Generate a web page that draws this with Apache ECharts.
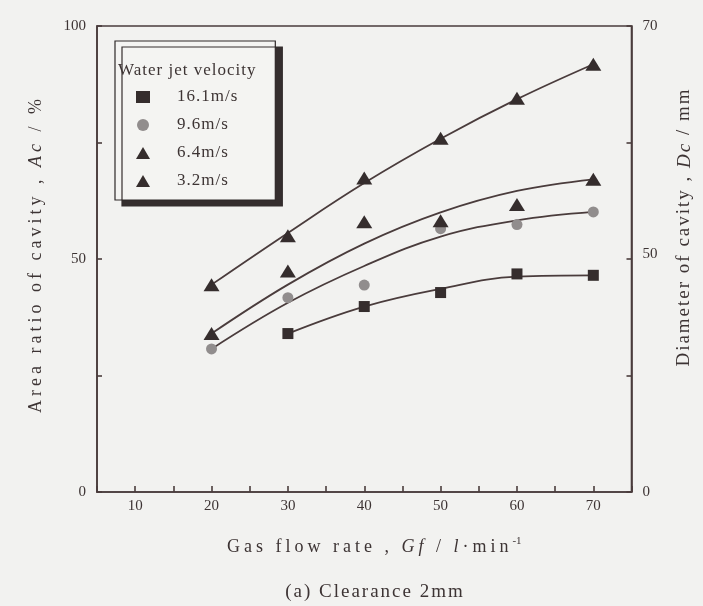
<!DOCTYPE html>
<html>
<head>
<meta charset="utf-8">
<title>Cavity area ratio vs gas flow rate</title>
<script src="https://cdn.jsdelivr.net/npm/echarts@6/dist/echarts.min.js"></script>
<style>
  html, body { margin: 0; padding: 0; background: #f2f2f0; }
  #chart { width: 703px; height: 606px; }
</style>
</head>
<body>
<div id="chart"></div>
<script>
// Gas flow rate Gf (l/min) at which the cavity was measured
const gasFlow = [20, 30, 40, 50, 60, 70];

// Water jet velocities (legend entries)
const velocities = ['16.1m/s', '9.6m/s', '6.4m/s', '3.2m/s'];

// Measured area ratio of cavity Ac (%) per velocity
const ac161 = [null, 34.0, 39.8, 42.8, 46.8, 46.5];
const ac96  = [30.7, 41.7, 44.4, 56.5, 57.4, 60.1];
const ac64  = [34.0, 47.4, 58.0, 58.2, 61.7, 67.1];
const ac32  = [44.5, 55.0, 67.4, 75.9, 84.5, 91.8];

// Smoothed trend curves drawn through each data set
const fit161 = [null, 34.0, 39.8, 43.6, 46.2, 46.5];
const fit96  = [30.7, 40.6, 48.5, 54.8, 58.3, 60.1];
const fit64  = [34.0, 44.5, 53.3, 60.0, 64.6, 67.1];
const fit32  = [44.5, 55.6, 66.3, 75.8, 84.3, 91.8];

// Axis ticks
const xTickLabels = [10, 20, 30, 40, 50, 60, 70];
const acTickLabels = [0, 50, 100];
const dcTickLabels = [0, 50, 70];     // diameter Dc (mm), Ac = (Dc / 70)^2 * 100
const dcFull = 70;

// Condensed typeset look: extra tracking keyed on font size
const TRACKING = { 18: '4px', 19: '2px', 17: '1px' };
(function () {
  const proto = CanvasRenderingContext2D.prototype;
  ['fillText', 'strokeText', 'measureText'].forEach(function (fn) {
    const orig = proto[fn];
    proto[fn] = function () {
      const m = /(\d+(?:\.\d+)?)px/.exec(this.font || '');
      const sp = m ? TRACKING[Math.round(parseFloat(m[1]))] : null;
      if ('letterSpacing' in this) this.letterSpacing = sp || '0px';
      return orig.apply(this, arguments);
    };
  });
})();

const INK = '#3d3434';
const LINE = '#4a3c3c';
const FONT = '"Liberation Serif", "DejaVu Serif", serif';

function pairs(ys) {
  const out = [];
  gasFlow.forEach(function (g, i) { if (ys[i] != null) out.push([g, ys[i]]); });
  return out;
}

const pointSets = [ac161, ac96, ac64, ac32];
const fitSets = [fit161, fit96, fit64, fit32];
const symbols = ['rect', 'circle', 'triangle', 'triangle'];
const symbolSizes = [11, 11, [16, 13], [16, 13]];
const colors = ['#352d2d', '#918d8d', '#352d2d', '#352d2d'];

const series = [];
fitSets.forEach(function (ys, k) {
  series.push({
    name: velocities[k] + ' trend',
    type: 'line',
    data: pairs(ys),
    smooth: 0.4,
    showSymbol: false,
    symbol: 'none',
    silent: true,
    z: 2,
    lineStyle: { color: LINE, width: 1.8 }
  });
});
pointSets.forEach(function (ys, k) {
  series.push({
    name: velocities[k],
    type: 'scatter',
    data: pairs(ys),
    symbol: symbols[k],
    symbolSize: symbolSizes[k],
    z: 3,
    itemStyle: { color: colors[k], opacity: 1 }
  });
});

const axisLineStyle = { color: LINE, width: 1.6 };
const textBase = { fontFamily: FONT, color: INK };

function richName(size) {
  return {
    t: Object.assign({ fontSize: size, lineHeight: 22 }, textBase),
    i: Object.assign({ fontSize: size, lineHeight: 22, fontStyle: 'italic' }, textBase),
    s: Object.assign({ fontSize: 11, lineHeight: 22, verticalAlign: 'top' }, textBase)
  };
}

const chart = echarts.init(document.getElementById('chart'), null, { renderer: 'canvas' });
chart.setOption({
  animation: false,
  backgroundColor: '#f2f2f0',
  grid: {
    left: 97, right: 71, top: 26, bottom: 114,
    show: true, borderColor: LINE, borderWidth: 1.6, backgroundColor: 'transparent'
  },
  title: [
    {
      text: 'Water jet velocity',
      left: 118, top: 62, padding: 0,
      textStyle: Object.assign({ fontSize: 17, fontWeight: 'normal' }, textBase)
    },
    {
      text: '(a) Clearance 2mm',
      left: 375, top: 582, padding: 0, textAlign: 'center',
      textStyle: Object.assign({ fontSize: 19, fontWeight: 'normal' }, textBase)
    }
  ],
  legend: {
    data: velocities,
    orient: 'vertical',
    left: 115, top: 41,
    padding: [46, 37, 9, 21],
    itemWidth: 14, itemHeight: 12, itemGap: 8,
    selectedMode: false,
    backgroundColor: '#f4f4f2',
    borderColor: '#2e2828', borderWidth: 1.2,
    shadowColor: '#352e2e', shadowBlur: 0, shadowOffsetX: 7, shadowOffsetY: 6,
    textStyle: Object.assign({ fontSize: 17, lineHeight: 20, padding: [0, 0, 0, 22] }, textBase)
  },
  xAxis: {
    type: 'value', min: 5, max: 75, interval: 5,
    name: '{t|Gas flow rate , }{i|Gf}{t| / }{i|l}{t|·min}{s|-1}',
    nameLocation: 'middle', nameGap: 44, nameMoveOverlap: false,
    nameTextStyle: { padding: [0, 0, 0, 20], rich: richName(18) },
    axisLine: { lineStyle: axisLineStyle },
    axisTick: { inside: true, length: 6, lineStyle: axisLineStyle },
    axisLabel: Object.assign({
      fontSize: 15, margin: 7,
      formatter: function (v) { return xTickLabels.indexOf(v) >= 0 ? String(v) : ''; }
    }, textBase),
    splitLine: { show: false }
  },
  yAxis: [
    {
      type: 'value', min: 0, max: 100, interval: 25, position: 'left',
      name: '{t|Area ratio of cavity , }{i|Ac}{t| / %}',
      nameLocation: 'middle', nameRotate: 90, nameGap: 50, nameMoveOverlap: false,
      nameTextStyle: { padding: [0, 0, 0, 10], rich: richName(18) },
      axisLine: { show: true, lineStyle: axisLineStyle },
      axisTick: { show: true, inside: true, length: 5, lineStyle: axisLineStyle },
      axisLabel: Object.assign({
        fontSize: 15, margin: 11,
        formatter: function (v) { return acTickLabels.indexOf(v) >= 0 ? String(v) : ''; }
      }, textBase),
      splitLine: { show: false }
    },
    {
      type: 'value', min: 0, max: 100, interval: 25, position: 'right',
      name: '{t|Diameter of cavity , }{i|Dc}{t| / mm}',
      nameLocation: 'middle', nameRotate: 90, nameGap: 42, nameMoveOverlap: false,
      nameTextStyle: { padding: [0, 0, 0, 64], rich: richName(19) },
      axisLine: { show: true, lineStyle: axisLineStyle },
      axisTick: { show: true, inside: true, length: 5, lineStyle: axisLineStyle },
      axisLabel: Object.assign({
        fontSize: 15, margin: 11,
        customValues: dcTickLabels.map(function (d) { return 100 * (d / dcFull) * (d / dcFull); }),
        formatter: function (v) { return String(Math.round(dcFull * Math.sqrt(v / 100))); }
      }, textBase),
      splitLine: { show: false }
    }
  ],
  series: series
});
</script>
</body>
</html>
